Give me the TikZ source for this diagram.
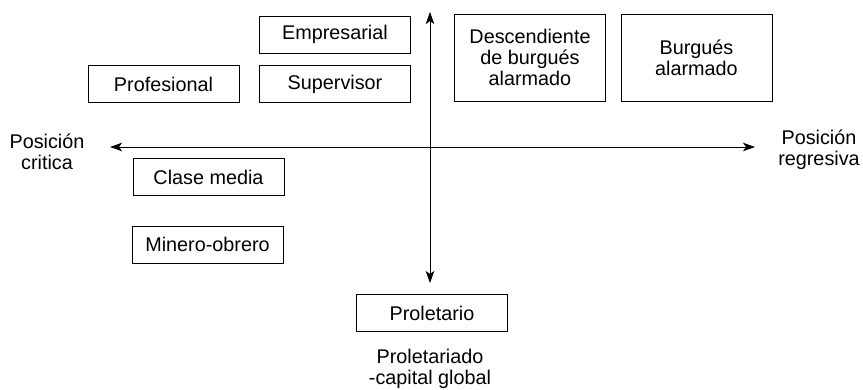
\documentclass[tikz,border=0pt]{standalone}
\usepackage{fontspec}
\setmainfont{Liberation Sans}
\usetikzlibrary{arrows.meta}
\begin{document}
\begin{tikzpicture}[x=1pt,y=1pt,
  box/.style={draw,line width=0.85pt,minimum width=151pt,minimum height=37pt,inner sep=0pt,align=center,font=\fontsize{19.8}{21}\selectfont},
  tall/.style={box,minimum height=87pt},
  lbl/.style={align=center,inner sep=0pt,font=\fontsize{19.8}{20.5}\selectfont},
  axis/.style={line width=0.85pt,{Stealth[length=12pt,width=8.5pt,inset=3pt]}-{Stealth[length=12pt,width=8.5pt,inset=3pt]}}]
\useasboundingbox (0,0) rectangle (863,-389);
\node[box] (emp) at (335,-34.5) {Empresarial};
\node[box] (pro) at (163.5,-84) {Profesional};
\node[box] (sup) at (335,-84) {Supervisor};
\node[tall] (desc) at (530,-57.5) {Descendiente\\de burgués\\alarmado};
\node[tall] (burg) at (696.5,-57.5) {Burgués\\alarmado};
\node[box] (cla) at (208.5,-177) {Clase media};
\node[box] (min) at (207.5,-244.5) {Minero-obrero};
\node[box] (prol) at (432,-313) {Proletario};
\node[lbl] (pc) at (47,-152) {Posición\\critica};
\node[lbl] (pr) at (819,-150) {Posición\\regresiva};
\node[lbl] (pcg) at (430,-369) {Proletariado\\-capital global};
\coordinate (top) at (430,-12);
\coordinate (bot) at (430,-283);
\coordinate (lft) at (110,-147);
\coordinate (rgt) at (755,-147);
\draw[axis] (top) -- (bot);
\draw[axis] (lft) -- (rgt);
\end{tikzpicture}
\end{document}
